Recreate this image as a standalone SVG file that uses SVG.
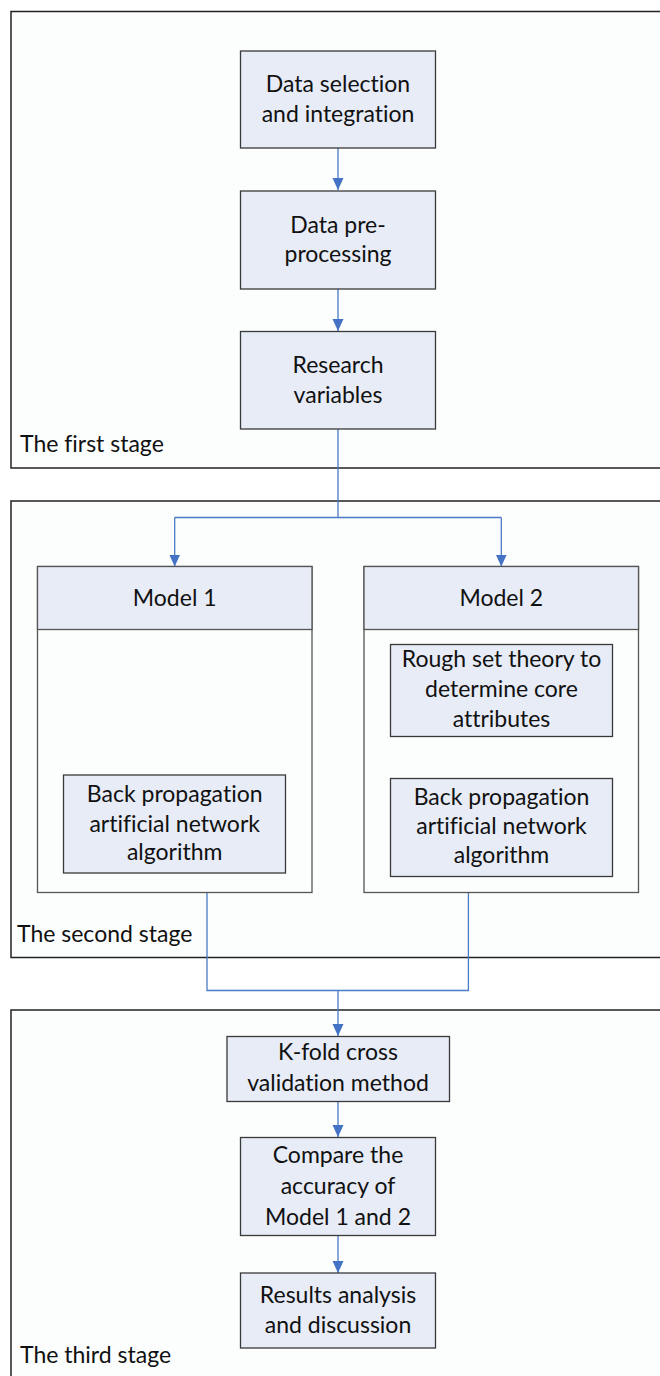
<svg xmlns="http://www.w3.org/2000/svg" width="660" height="1376" viewBox="0 0 660 1376">
  <style>
    .stage { fill: #fcfdfd; stroke: #222222; stroke-width: 1.5; }
    .box { fill: #e7ecf7; stroke: #3a3a3a; stroke-width: 1.3; }
    .panel { fill: #fcfdfd; stroke: #555555; stroke-width: 1.3; }
    .head { fill: #e7ecf7; stroke: #555555; stroke-width: 1.3; }
    text { font-family: Lato, "Liberation Sans", sans-serif; font-size: 23px; fill: #111111; font-variant-ligatures: none; font-feature-settings: "liga" 0, "clig" 0; }
    .lbl { text-anchor: middle; }
    .wire { fill: none; stroke: #4a7bc6; stroke-width: 1.3; }
    .arrow { marker-end: url(#head); }
  </style>
  <defs>
    <marker id="head" markerUnits="userSpaceOnUse" markerWidth="12" markerHeight="12" viewBox="0 0 12 12" refX="12" refY="6" orient="auto">
      <path d="M0,0.5 L12,6 L0,11.5 z" fill="#4472c4"/>
    </marker>
  </defs>
  <rect width="660" height="1376" fill="#ffffff"/>

  <!-- stage frames (open to the right edge) -->
  <g id="stage1">
    <rect class="stage" x="11" y="11.5" width="660" height="456.5"/>
    <text x="20" y="452">The first stage</text>
  </g>
  <g id="stage2">
    <rect class="stage" x="11" y="501" width="660" height="456.5"/>
    <text x="17" y="942">The second stage</text>
  </g>
  <g id="stage3">
    <rect class="stage" x="11" y="1010" width="660" height="380"/>
    <text x="20" y="1363">The third stage</text>
  </g>

  <!-- connectors -->
  <g id="connectors">
    <path class="wire arrow" d="M338,148 V190"/>
    <path class="wire arrow" d="M338,289 V331"/>
    <path class="wire" d="M338,429 V517.5 M174.7,517.5 H501.3"/>
    <path class="wire arrow" d="M174.7,517.5 V566.5"/>
    <path class="wire arrow" d="M501.3,517.5 V566.5"/>
    <path class="wire arrow" d="M501.5,736.5 V778"/>
    <path class="wire" stroke-width="1" d="M207,893 V990.5 H468.4 V893"/>
    <path class="wire arrow" d="M338,990.5 V1036"/>
    <path class="wire arrow" d="M338,1101.5 V1137"/>
    <path class="wire arrow" d="M338,1235.5 V1273"/>
  </g>

  <!-- first stage -->
  <g id="n-data-selection">
    <rect class="box" x="240.5" y="51" width="195" height="97"/>
    <text class="lbl" x="338" y="92">Data selection</text>
    <text class="lbl" x="338" y="122">and integration</text>
  </g>
  <g id="n-preprocessing">
    <rect class="box" x="240.5" y="191" width="195" height="98"/>
    <text class="lbl" x="338" y="233">Data pre-</text>
    <text class="lbl" x="338" y="262">processing</text>
  </g>
  <g id="n-research-variables">
    <rect class="box" x="240.5" y="331.5" width="195" height="97.5"/>
    <text class="lbl" x="338" y="373">Research</text>
    <text class="lbl" x="338" y="403">variables</text>
  </g>

  <!-- second stage -->
  <g id="n-model1">
    <rect class="panel" x="37.5" y="566.5" width="274.5" height="326"/>
    <rect class="head" x="37.5" y="566.5" width="274.5" height="63"/>
    <text class="lbl" x="174.7" y="606">Model 1</text>
  </g>
  <g id="n-model1-bp">
    <rect class="box" x="63.5" y="775" width="222" height="98"/>
    <text class="lbl" x="174.7" y="802">Back propagation</text>
    <text class="lbl" x="174.7" y="832">artificial network</text>
    <text class="lbl" x="174.7" y="860">algorithm</text>
  </g>
  <g id="n-model2">
    <rect class="panel" x="364" y="566.5" width="274.5" height="326"/>
    <rect class="head" x="364" y="566.5" width="274.5" height="63"/>
    <text class="lbl" x="501.3" y="606">Model 2</text>
  </g>
  <g id="n-rough-set">
    <rect class="box" x="390.5" y="644.5" width="222" height="92"/>
    <text class="lbl" x="501.5" y="667">Rough set theory to</text>
    <text class="lbl" x="501.5" y="697">determine core</text>
    <text class="lbl" x="501.5" y="727">attributes</text>
  </g>
  <g id="n-model2-bp">
    <rect class="box" x="390.5" y="778.5" width="222" height="98"/>
    <text class="lbl" x="501.5" y="805">Back propagation</text>
    <text class="lbl" x="501.5" y="834">artificial network</text>
    <text class="lbl" x="501.5" y="863">algorithm</text>
  </g>

  <!-- third stage -->
  <g id="n-kfold">
    <rect class="box" x="227" y="1036.5" width="222.5" height="65"/>
    <text class="lbl" x="338" y="1060">K-fold cross</text>
    <text class="lbl" x="338" y="1091">validation method</text>
  </g>
  <g id="n-compare">
    <rect class="box" x="240.5" y="1137.5" width="195" height="98"/>
    <text class="lbl" x="338" y="1163">Compare the</text>
    <text class="lbl" x="338" y="1194">accuracy of</text>
    <text class="lbl" x="338" y="1225">Model 1 and 2</text>
  </g>
  <g id="n-results">
    <rect class="box" x="240.5" y="1273" width="195" height="75"/>
    <text class="lbl" x="338" y="1303">Results analysis</text>
    <text class="lbl" x="338" y="1333">and discussion</text>
  </g>
</svg>
